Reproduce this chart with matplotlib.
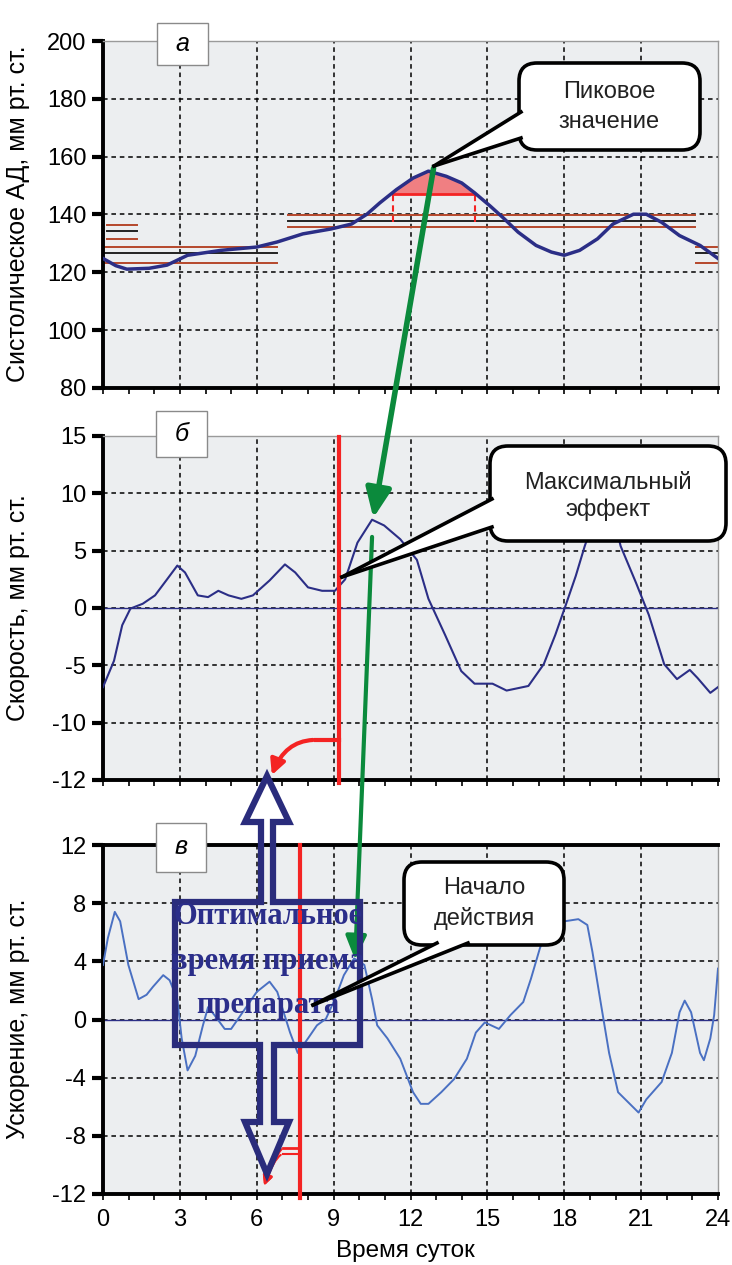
import numpy as np
import matplotlib
matplotlib.use("Agg")
import matplotlib.pyplot as plt
from matplotlib.patches import FancyBboxPatch, Polygon, Rectangle, FancyArrowPatch, ConnectionPatch
from matplotlib.transforms import Affine2D

plt.rcParams['font.family'] = ['Liberation Sans', 'DejaVu Sans']
plt.rcParams['axes.unicode_minus'] = False

# --- систолическое АД ---
t_bp = [0, 0.5, 0.93, 1.8, 2.5, 3.3, 4.6, 6.0, 6.8, 7.8, 8.9, 9.7, 10.3, 10.8, 11.45,
        12.1, 12.7, 13.4, 14.0, 14.5, 15.1, 15.6, 16.2, 16.9, 17.5, 18.0, 18.6, 19.3,
        19.9, 20.7, 21.2, 21.8, 22.5, 23.3, 24]
bp = [124.8, 122.3, 121.1, 121.4, 122.5, 125.9, 127.6, 128.75, 130.5, 133.3, 135.0,
      136.7, 140.1, 144.0, 148.6, 152.6, 155.0, 153.2, 150.9, 147.5, 143.0, 139.0,
      133.9, 129.3, 127.0, 125.9, 127.6, 131.6, 136.7, 140.1, 140.1, 137.3, 132.7,
      129.3, 124.8]
# горизонтальные уровни (начало, конец, значение, цвет)
lev_t0 = [0.15, 0.15, 0.15, 0, 0, 0, 7.2, 7.2, 7.2, 23.15, 23.15, 23.15]
lev_t1 = [1.33, 1.33, 1.33, 6.8, 6.8, 6.8, 23.1, 23.1, 23.1, 24, 24, 24]
lev_y = [136.4, 134.3, 131.5, 128.9, 126.6, 123.1, 139.8, 137.6, 135.6, 128.9, 126.6, 123.1]
lev_c = ['#b5472b', '#222222', '#b5472b'] * 4
peak_level = 147.2
peak_t = [11.3, 14.5]
peak_base = 137.5

# --- скорость ---
t_v = [0, 0.43, 0.75, 1.07, 1.55, 2.03, 2.5, 2.9, 3.2, 3.7, 4.1, 4.5, 4.9, 5.4, 5.85,
       6.5, 7.1, 7.5, 8.0, 8.55, 9.05, 9.45, 9.93, 10.5, 10.97, 11.6, 12.25, 12.7,
       13.35, 13.98, 14.5, 15.2, 15.75, 16.6, 17.2, 17.65, 18.05, 18.45, 18.8, 19.2,
       19.6, 19.9, 20.2, 20.8, 21.3, 21.9, 22.4, 22.9, 23.2, 23.7, 24]
v = [-6.9, -4.6, -1.5, -0.05, 0.37, 1.1, 2.5, 3.7, 3.1, 1.1, 0.95, 1.5, 1.1, 0.8, 1.1,
     2.4, 3.8, 3.1, 1.8, 1.5, 1.5, 2.5, 5.7, 7.7, 7.2, 6.0, 4.2, 0.8, -2.35, -5.5,
     -6.6, -6.6, -7.2, -6.8, -4.9, -2.35, 0.2, 2.8, 5.4, 8.0, 9.0, 8.2, 5.4, 2.2, -0.6,
     -4.9, -6.2, -5.4, -6.1, -7.4, -6.9]
v_ticks = [-15, -10, -5, 0, 5, 10, 15]
v_labels = ['-12', '-10', '-5', '0', '5', '10', '15']

# --- ускорение ---
t_a = [0, 0.19, 0.46, 0.67, 0.99, 1.39, 1.7, 1.95, 2.35, 2.6, 2.9, 3.07, 3.3, 3.6, 3.9,
       4.1, 4.35, 4.75, 5.0, 5.55, 6.0, 6.5, 6.8, 7.3, 7.6, 8.0, 8.35, 8.7, 9.05, 9.4,
       9.8, 10.2, 10.5, 10.7, 11.1, 11.6, 12.1, 12.4, 12.7, 13.2, 13.7, 14.2, 14.55,
       14.9, 15.45, 15.9, 16.4, 16.7, 17.05, 17.3, 17.6, 18.0, 18.55, 18.9, 19.1, 19.4,
       19.75, 20.1, 20.5, 20.9, 21.2, 21.8, 22.2, 22.5, 22.7, 22.95, 23.3, 23.45, 23.7,
       23.85, 24]
a = [3.75, 5.6, 7.4, 6.75, 3.75, 1.4, 1.7, 2.25, 3.05, 2.7, 1.4, -1.3, -3.5, -2.5, -0.4,
     0.85, 0.3, -0.65, -0.65, 0.75, 1.9, 2.6, 1.9, -0.9, -2.3, -1.3, -0.4, 0.05, 1.4,
     3.05, 4.2, 3.75, 1.4, -0.4, -1.3, -2.7, -5.0, -5.8, -5.8, -5.0, -4.1, -2.7, -0.9,
     -0.2, -0.65, 0.3, 1.2, 2.8, 4.9, 6.05, 6.6, 6.75, 6.9, 6.5, 4.65, 1.4, -2.3, -5.0,
     -5.7, -6.4, -5.5, -4.3, -2.3, 0.5, 1.3, 0.5, -2.3, -2.8, -1.3, 0.3, 3.5]

dose_v = 9.2     # красная линия на графике скорости
dose_a = 7.7     # красная линия на графике ускорения

NAVY = '#2b2e86'
RED = '#f42323'
GREEN = '#0b8a3c'
BG = '#eceef0'

W, H = 732, 1265
fig = plt.figure(figsize=(W / 100, H / 100), dpi=100)
# пиксельные координаты (0,0 - левый верхний угол)
px = Affine2D().scale(0.01, -0.01).translate(0, H / 100) + fig.dpi_scale_trans


def axes_px(x0, y0, x1, y1):
    return fig.add_axes([x0 / W, 1 - y1 / H, (x1 - x0) / W, (y1 - y0) / H])


ax1 = axes_px(103, 41, 718, 388)
ax2 = axes_px(103, 436, 718, 780)
ax3 = axes_px(103, 845, 718, 1194)

setup = [(ax1, (80, 200), list(range(80, 201, 20)), None),
         (ax2, (-15, 15), v_ticks, v_labels),
         (ax3, (-12, 12), list(range(-12, 13, 4)), None)]
for ax, ylim, yt, ylab in setup:
    ax.set_facecolor(BG)
    ax.set_xlim(0, 24)
    ax.set_ylim(*ylim)
    ax.set_yticks(yt)
    if ylab:
        ax.set_yticklabels(ylab)
    ax.set_xticks(range(0, 25, 3))
    ax.set_xticks(range(0, 25), minor=True)
    for x in range(3, 24, 3):
        ax.axvline(x, color='black', lw=1.1, ls=(0, (3, 2.5)), zorder=1)
    for y in yt[1:-1]:
        ax.axhline(y, color='black', lw=1.1, ls=(0, (3, 2.5)), zorder=1)
    for s in ('top', 'right'):
        ax.spines[s].set_color('#9a9a9a')
        ax.spines[s].set_linewidth(1)
    for s in ('left', 'bottom'):
        ax.spines[s].set_linewidth(2.8)
    ax.tick_params(axis='y', direction='out', length=8, width=3, labelsize=17, pad=4)
    ax.tick_params(axis='x', which='both', direction='out', length=4, width=1.2,
                   labelsize=17, pad=7)
ax3.spines['top'].set_color('black')
ax3.spines['top'].set_linewidth(2.8)
ax1.tick_params(axis='x', labelbottom=False)
ax2.tick_params(axis='x', labelbottom=False)

# панель а
for t0, t1, y, c in zip(lev_t0, lev_t1, lev_y, lev_c):
    ax1.plot([t0, t1], [y, y], color=c, lw=1.4, zorder=2)
tb = np.array(t_bp)
yb = np.array(bp)
ax1.fill_between(tb, yb, peak_level, where=yb >= peak_level, interpolate=True,
                 color='#f07f82', zorder=2)
ax1.plot(peak_t, [peak_level, peak_level], color=RED, lw=2, zorder=3)
for t in peak_t:
    ax1.plot([t, t], [peak_base, peak_level], color=RED, lw=1.5, ls=(0, (3, 2)), zorder=3)
ax1.plot(t_bp, bp, color=NAVY, lw=2.5, zorder=4)

# панель б
ax2.axhline(0, color=NAVY, lw=1, zorder=2)
ax2.plot(t_v, v, color=NAVY, lw=1.5, zorder=3)
ax2.plot([dose_v, dose_v], [14.9, -15.3], color=RED, lw=3, clip_on=False, zorder=5)
ax2.plot([dose_v, 8.3], [-11.5, -11.5], color=RED, lw=3, zorder=5)
ax2.add_patch(FancyArrowPatch((8.3, -11.5), (6.55, -14.8),
                              connectionstyle="angle3,angleA=0,angleB=70",
                              arrowstyle="-|>,head_length=0.5,head_width=0.25",
                              mutation_scale=18, color=RED, lw=3, zorder=5, clip_on=False))

# панель в
ax3.axhline(0, color=NAVY, lw=1, zorder=2)
ax3.plot(t_a, a, color='#4a70c2', lw=1.4, zorder=3)
ax3.plot([dose_a, dose_a], [12, -12.3], color=RED, lw=3, clip_on=False, zorder=5)
for y0, w in ((-8.84, 2), (-9.25, 1.5)):
    ax3.plot([dose_a, 7.04], [y0, y0], color=RED, lw=w, zorder=5)
    ax3.add_patch(FancyArrowPatch((7.04, y0), (6.25, -11.6),
                                  connectionstyle="angle3,angleA=0,angleB=70",
                                  arrowstyle="-|>,head_length=0.4,head_width=0.2",
                                  mutation_scale=14, color=RED, lw=w, zorder=5))

# зелёные стрелки
fig.add_artist(ConnectionPatch((12.9, 156), (10.55, 7.85), coordsA=ax1.transData,
                               coordsB=ax2.transData, arrowstyle="-|>,head_length=0.8,head_width=0.35",
                               mutation_scale=22, color=GREEN, lw=4, zorder=10))
fig.add_artist(ConnectionPatch((10.5, 6.2), (9.84, 4.1), coordsA=ax2.transData,
                               coordsB=ax3.transData, arrowstyle="-|>,head_length=0.8,head_width=0.35",
                               mutation_scale=18, color=GREEN, lw=3, zorder=10))

# подписи осей
fig.text(18, 214, 'Систолическое АД, мм рт. ст.', transform=px, rotation=90,
         ha='center', va='center', fontsize=18)
fig.text(18, 608, 'Скорость, мм рт. ст.', transform=px, rotation=90,
         ha='center', va='center', fontsize=18)
fig.text(18, 1019, 'Ускорение, мм рт. ст.', transform=px, rotation=90,
         ha='center', va='center', fontsize=18)
fig.text(405, 1251, 'Время суток', transform=px, ha='center', va='center', fontsize=17.5)

# буквы панелей
for (x0, y0, x1, y1), s in (((157, 23, 208, 65), 'а'), ((156, 411, 207, 457), 'б'),
                            ((156, 823, 206, 872), 'в')):
    fig.add_artist(Rectangle((x0, y0), x1 - x0, y1 - y0, transform=px, facecolor='white',
                             edgecolor='#8a8a8a', lw=1, zorder=12))
    fig.text((x0 + x1) / 2, (y0 + y1) / 2, s, transform=px, ha='center', va='center',
             fontsize=18, style='italic', zorder=13)


def callout(box, base, tip, lines):
    x0, y0, x1, y1 = box
    fig.add_artist(FancyBboxPatch((x0, y0), x1 - x0, y1 - y0, transform=px,
                                  boxstyle="round,pad=0,rounding_size=18",
                                  facecolor='white', edgecolor='black', lw=2.6, zorder=14))
    fig.add_artist(Polygon([base[0], base[1], tip], closed=True, transform=px,
                           facecolor='white', edgecolor='none', zorder=15))
    for b in base:
        fig.add_artist(plt.Line2D([b[0], tip[0]], [b[1], tip[1]], transform=px,
                                  color='black', lw=2.6, zorder=15))
    cx = (x0 + x1) / 2
    for txt, y in lines:
        fig.text(cx, y, txt, transform=px, ha='center', va='center', fontsize=17,
                 color='#222222', zorder=16)


callout((519, 63, 700, 150), [(521, 112), (521, 138)], (434, 166),
        [('Пиковое', 92), ('значение', 122)])
callout((490, 446, 726, 541), [(492, 499), (492, 527)], (342, 577),
        [('Максимальный', 483), ('эффект', 510)])
callout((404, 862, 564, 945), [(437, 943), (468, 943)], (313, 1005),
        [('Начало', 888), ('действия', 918)])

# двойная стрелка с рамкой
outline = [(267, 776), (289, 822), (273, 822), (273, 902), (360, 902), (360, 1045),
           (274, 1045), (274, 1122), (289, 1122), (267, 1174), (245, 1122), (260, 1122),
           (260, 1045), (175, 1045), (175, 902), (261, 902), (261, 822), (245, 822)]
fig.add_artist(Polygon(outline, closed=True, transform=px, facecolor='none',
                       edgecolor='#2a2c7c', lw=4.5, joinstyle='miter', zorder=11))
for txt, y in (('Оптимальное', 917), ('время приема', 962), ('препарата', 1006)):
    fig.text(268, y, txt, transform=px, ha='center', va='center', fontsize=22,
             family=['Liberation Serif', 'DejaVu Serif'], weight='bold', color='#2b2e8a',
             zorder=11)

fig.savefig('out.png', dpi=100)
